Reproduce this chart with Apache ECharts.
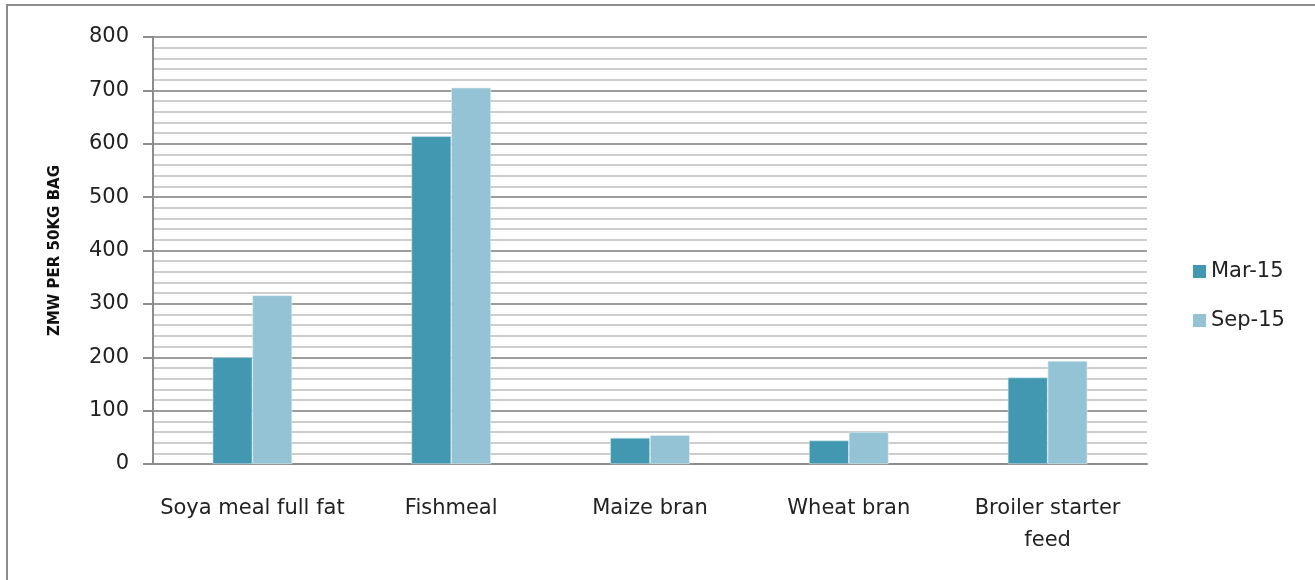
<!DOCTYPE html>
<html>
<head>
<meta charset="utf-8">
<script src="https://cdn.jsdelivr.net/npm/echarts@6/dist/echarts.min.js"></script>
<style>
    html, body { margin: 0; padding: 0; background: #fff; }
    #chart { width: 1315px; height: 580px; }
</style>
</head>
<body>
<div id="chart"></div>
<script>
// 饲料价格数据
var categories = ['Soya meal full fat', 'Fishmeal', 'Maize bran', 'Wheat bran', 'Broiler starter\nfeed'];
var seriesNames = ['Mar-15', 'Sep-15'];
var mar15 = [200, 614, 49, 44, 162];
var sep15 = [316, 705, 54, 60, 193];
var yTicks = [0, 100, 200, 300, 400, 500, 600, 700, 800];

var fontFam = '"DejaVu Sans", "Liberation Sans", sans-serif';

var myChart = echarts.init(document.getElementById('chart'));
var option = {
    animation: false,
    backgroundColor: '#fff',
    graphic: [
        {
            type: 'rect',
            shape: { x: 7, y: 5, width: 1400, height: 700 },
            style: { fill: 'none', stroke: '#8c8c8c', lineWidth: 2 },
            silent: true
        }
    ],
    legend: {
        orient: 'vertical',
        left: 1188,
        top: 256,
        itemWidth: 13,
        itemHeight: 13,
        itemGap: 28,
        icon: 'rect',
        itemStyle: { borderWidth: 0 },
        textStyle: { fontSize: 21, color: '#222', fontFamily: fontFam },
        data: seriesNames
    },
    grid: {
        left: 153,
        right: 168,
        top: 37,
        bottom: 116
    },
    xAxis: {
        type: 'category',
        data: categories,
        axisTick: { show: false },
        axisLine: { show: true, lineStyle: { color: '#8c8c8c', width: 2 } },
        axisLabel: {
            interval: 0,
            margin: 29,
            fontSize: 21,
            lineHeight: 32,
            color: '#222',
            fontFamily: fontFam
        },
        splitLine: { show: false }
    },
    yAxis: {
        type: 'value',
        min: yTicks[0],
        max: yTicks[yTicks.length - 1],
        interval: 100,
        name: 'ZMW PER 50KG BAG',
        nameLocation: 'middle',
        nameGap: 90,
        nameRotate: 90,
        nameTextStyle: { fontSize: 15, fontWeight: 'bold', color: '#111', fontFamily: fontFam },
        axisLine: { show: true, lineStyle: { color: '#8c8c8c', width: 2 } },
        axisTick: { show: true, length: 10, lineStyle: { color: '#8c8c8c', width: 2 } },
        axisLabel: { fontSize: 21, color: '#222', margin: 24, fontFamily: fontFam },
        splitLine: { show: true, lineStyle: { color: '#9c9c9c', width: 2 } },
        minorTick: { show: false, splitNumber: 5 },
        minorSplitLine: { show: true, lineStyle: { color: '#cdcdcd', width: 2 } }
    },
    series: [
        {
            name: seriesNames[0],
            type: 'bar',
            data: mar15,
            barGap: '0%',
            barCategoryGap: '60%',
            itemStyle: { color: '#4298b1', borderColor: '#cfe6ee', borderWidth: 0.6 }
        },
        {
            name: seriesNames[1],
            type: 'bar',
            data: sep15,
            itemStyle: { color: '#93c3d5', borderColor: '#e3f0f5', borderWidth: 0.6 }
        }
    ]
};
myChart.setOption(option);
</script>
</body>
</html>
